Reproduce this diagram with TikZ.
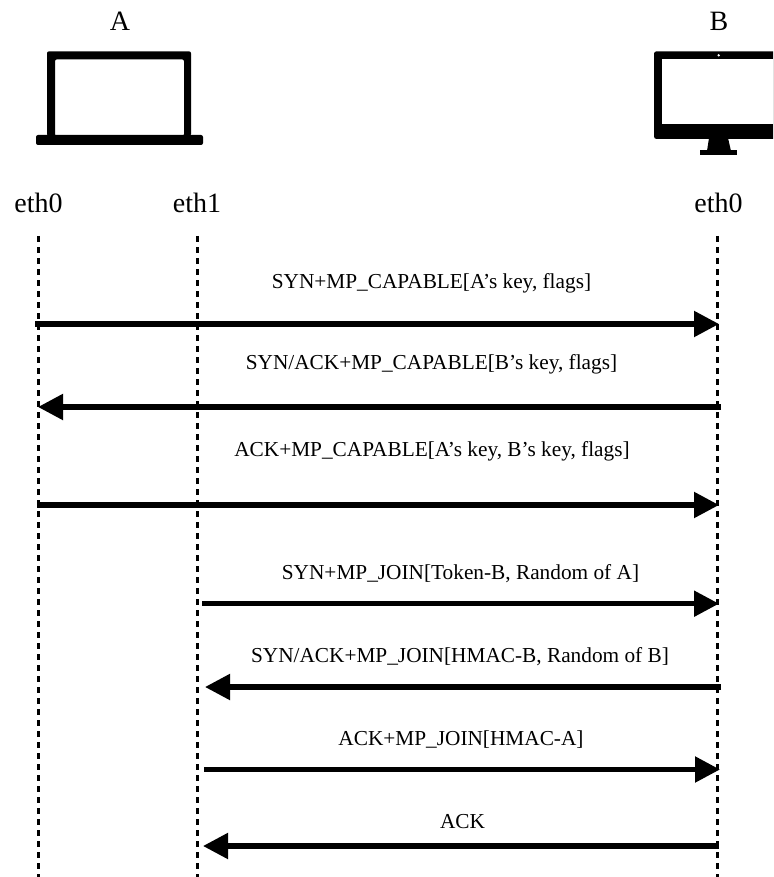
\documentclass[tikz,border=0pt]{standalone}
\usepackage{fontspec}
\setmainfont{Liberation Serif}
\usetikzlibrary{arrows.meta}
\tikzset{
  lifeline/.style={line width=3pt,dash pattern=on 5.5pt off 5.5pt},
  msg/.style={line width=5.2pt,-{Triangle[length=25pt,width=25pt]}},
  msgtext/.style={font=\fontsize{21.3}{21.3}\selectfont,anchor=base,inner sep=0pt,text=black},
  headtext/.style={font=\fontsize{28}{28}\selectfont,anchor=base,inner sep=0pt,text=black},
}
\begin{document}
\begin{tikzpicture}[x=1pt,y=-1pt]
\useasboundingbox (0,0) rectangle (773,877);
% Hosts
\node[headtext] (hostA) at (120,31) {A};
\node[headtext] (hostB) at (719,31) {B};
% Laptop
\fill[rounded corners=2pt,even odd rule] (47,136) -- (47,51.3) -- (191,51.3) -- (191,136) -- cycle
  (55,59.3) rectangle (184,136);
\fill[rounded corners=2pt] (36,135) -- (203,135) -- (203,145) -- (36,145) -- cycle;
% Monitor
\begin{scope}
\clip (640,40) rectangle (773,170);
\fill[rounded corners=2.5pt] (654,51.3) rectangle (783,139);
\fill[white] (662,59.5) rectangle (775,124);
\fill (709,138) -- (728,138) -- (731,151) -- (707,151) -- cycle;
\fill (700,150.3) rectangle (737,155);
\fill[white] (718.7,55.3) circle (1.3pt);
\end{scope}
% Interfaces
\node[headtext] (ifA0) at (38.5,213) {eth0};
\node[headtext] (ifA1) at (197,213) {eth1};
\node[headtext] (ifB0) at (718.5,213) {eth0};
% Lifelines
\coordinate (a0t) at (38,236);  \coordinate (a0b) at (38,877);
\coordinate (a1t) at (197,236); \coordinate (a1b) at (197,877);
\coordinate (b0t) at (717,236); \coordinate (b0b) at (717,877);
\draw[lifeline] (a0t) -- (a0b);
\draw[lifeline] (a1t) -- (a1b);
\draw[lifeline] (b0t) -- (b0b);
% Message end points
\coordinate (m1s) at (35,324);  \coordinate (m1e) at (719,324);
\coordinate (m2s) at (721,407); \coordinate (m2e) at (38,407);
\coordinate (m3s) at (37,505);  \coordinate (m3e) at (719,505);
\coordinate (m4s) at (202,603.7); \coordinate (m4e) at (719,603.7);
\coordinate (m5s) at (721,687); \coordinate (m5e) at (205,687);
\coordinate (m6s) at (204,769.5); \coordinate (m6e) at (720,769.5);
\coordinate (m7s) at (719,846); \coordinate (m7e) at (203,846);
\foreach \m in {1,...,7} \draw[msg] (m\m s) -- (m\m e);
% Labels
\node[msgtext] (l1) at (431.5,288) {SYN+MP\_CAPABLE[A’s key, flags]};
\node[msgtext] (l2) at (431.5,369.5) {SYN/ACK+MP\_CAPABLE[B’s key, flags]};
\node[msgtext] (l3) at (432,456) {ACK+MP\_CAPABLE[A’s key, B’s key, flags]};
\node[msgtext] (l4) at (460.5,579.5) {SYN+MP\_JOIN[Token-B, Random of A]};
\node[msgtext] (l5) at (460,662.5) {SYN/ACK+MP\_JOIN[HMAC-B, Random of B]};
\node[msgtext] (l6) at (461,745.5) {ACK+MP\_JOIN[HMAC-A]};
\node[msgtext] (l7) at (462.5,828) {ACK};
\end{tikzpicture}
\end{document}
